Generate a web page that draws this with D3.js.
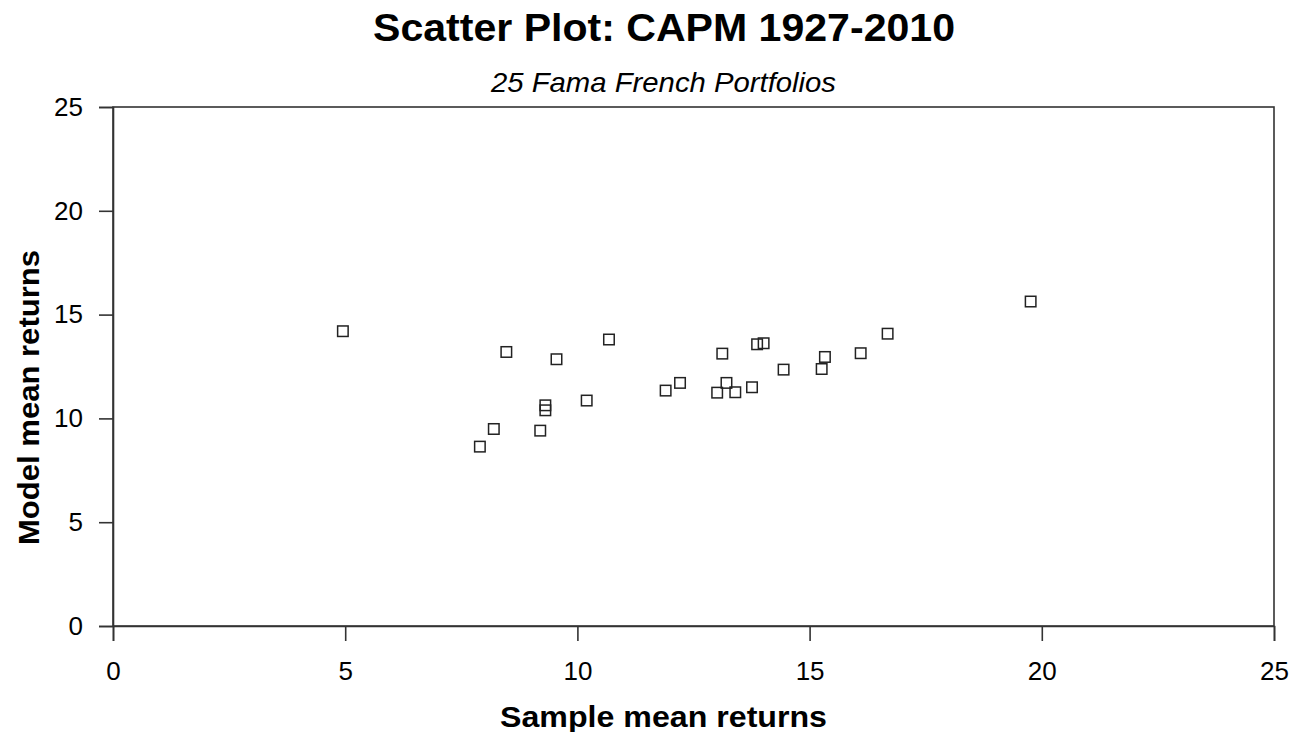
<!DOCTYPE html>
<html>
<head>
<meta charset="utf-8">
<script src="https://cdn.jsdelivr.net/npm/d3@7"></script>
<style>
  body { margin: 0; background: #fff; }
  text { font-family: "Liberation Sans", Arial, sans-serif; fill: #000; }
</style>
</head>
<body>
<div id="chart"></div>
<script>
// 25 Fama French portfolios: sample mean vs CAPM model mean returns
const sampleMean = [4.95, 8.47, 9.55, 10.68, 10.2, 9.31, 9.31, 8.2, 9.2, 7.9,
  19.76, 16.68, 16.1, 15.33, 15.26, 14.44, 13.87, 14.01, 13.12, 12.21,
  11.9, 13.21, 13.01, 13.4, 13.76];
const modelMean = [14.2, 13.2, 12.85, 13.8, 10.86, 10.63, 10.39, 9.49, 9.41, 8.64,
  15.63, 14.08, 13.14, 12.96, 12.38, 12.35, 13.57, 13.62, 13.12, 11.71,
  11.34, 11.71, 11.24, 11.26, 11.5];
const xTicks = [0, 5, 10, 15, 20, 25];
const yTicks = [0, 5, 10, 15, 20, 25];

const width = 1291, height = 732;
const margin = { left: 113, right: 17, top: 107, bottom: 106 };

const svg = d3.select("#chart").append("svg")
  .attr("width", width)
  .attr("height", height);

const x = d3.scaleLinear().domain([0, 25]).range([margin.left, width - margin.right]);
const y = d3.scaleLinear().domain([0, 25]).range([height - margin.bottom, margin.top]);

// x 軸
const xAxis = svg.append("g")
  .attr("transform", `translate(0,${y(0)})`)
  .call(d3.axisBottom(x).tickValues(xTicks).tickSize(15).tickPadding(21).tickFormat(d3.format("d")));

// y 軸
const yAxis = svg.append("g")
  .attr("transform", `translate(${x(0)},0)`)
  .call(d3.axisLeft(y).tickValues(yTicks).tickSize(14).tickPadding(16).tickFormat(d3.format("d")));

svg.selectAll(".domain, .tick line")
  .attr("stroke", "#333")
  .attr("stroke-width", 1.6);
svg.selectAll(".tick text")
  .attr("fill", "#000")
  .attr("font-size", 26)
  .attr("font-family", "Liberation Sans, Arial, sans-serif");

// 外框
svg.append("rect")
  .attr("x", x(0))
  .attr("y", y(25))
  .attr("width", x(25) - x(0))
  .attr("height", y(0) - y(25))
  .attr("fill", "none")
  .attr("stroke", "#333")
  .attr("stroke-width", 1.6);

// 散點（空心方塊）
const side = 10.5;
svg.append("g")
  .selectAll("rect")
  .data(sampleMean.map((d, i) => [d, modelMean[i]]))
  .enter()
  .append("rect")
  .attr("x", (d) => x(d[0]) - side / 2)
  .attr("y", (d) => y(d[1]) - side / 2)
  .attr("width", side)
  .attr("height", side)
  .attr("fill", "none")
  .attr("stroke", "#222")
  .attr("stroke-width", 1.5);

// 標題與軸標籤（textLength 撐開字寬以貼近原圖）
function label(txt, tx, ty, size, weight, style, len, rotate) {
  svg.append("text")
    .attr("transform", `translate(${tx},${ty})` + (rotate ? " rotate(-90)" : ""))
    .attr("text-anchor", "middle")
    .attr("font-size", size)
    .attr("font-weight", weight)
    .attr("font-style", style)
    .attr("textLength", len)
    .attr("lengthAdjust", "spacingAndGlyphs")
    .text(txt);
}

label("Scatter Plot: CAPM 1927-2010", 664, 41, 38, "bold", "normal", 582, false);
label("25 Fama French Portfolios", 663.5, 92, 28, "normal", "italic", 345, false);
label("Sample mean returns", 663.5, 727, 29, "bold", "normal", 327, false);
label("Model mean returns", 39, 397.5, 29, "bold", "normal", 295, true);
</script>
</body>
</html>
